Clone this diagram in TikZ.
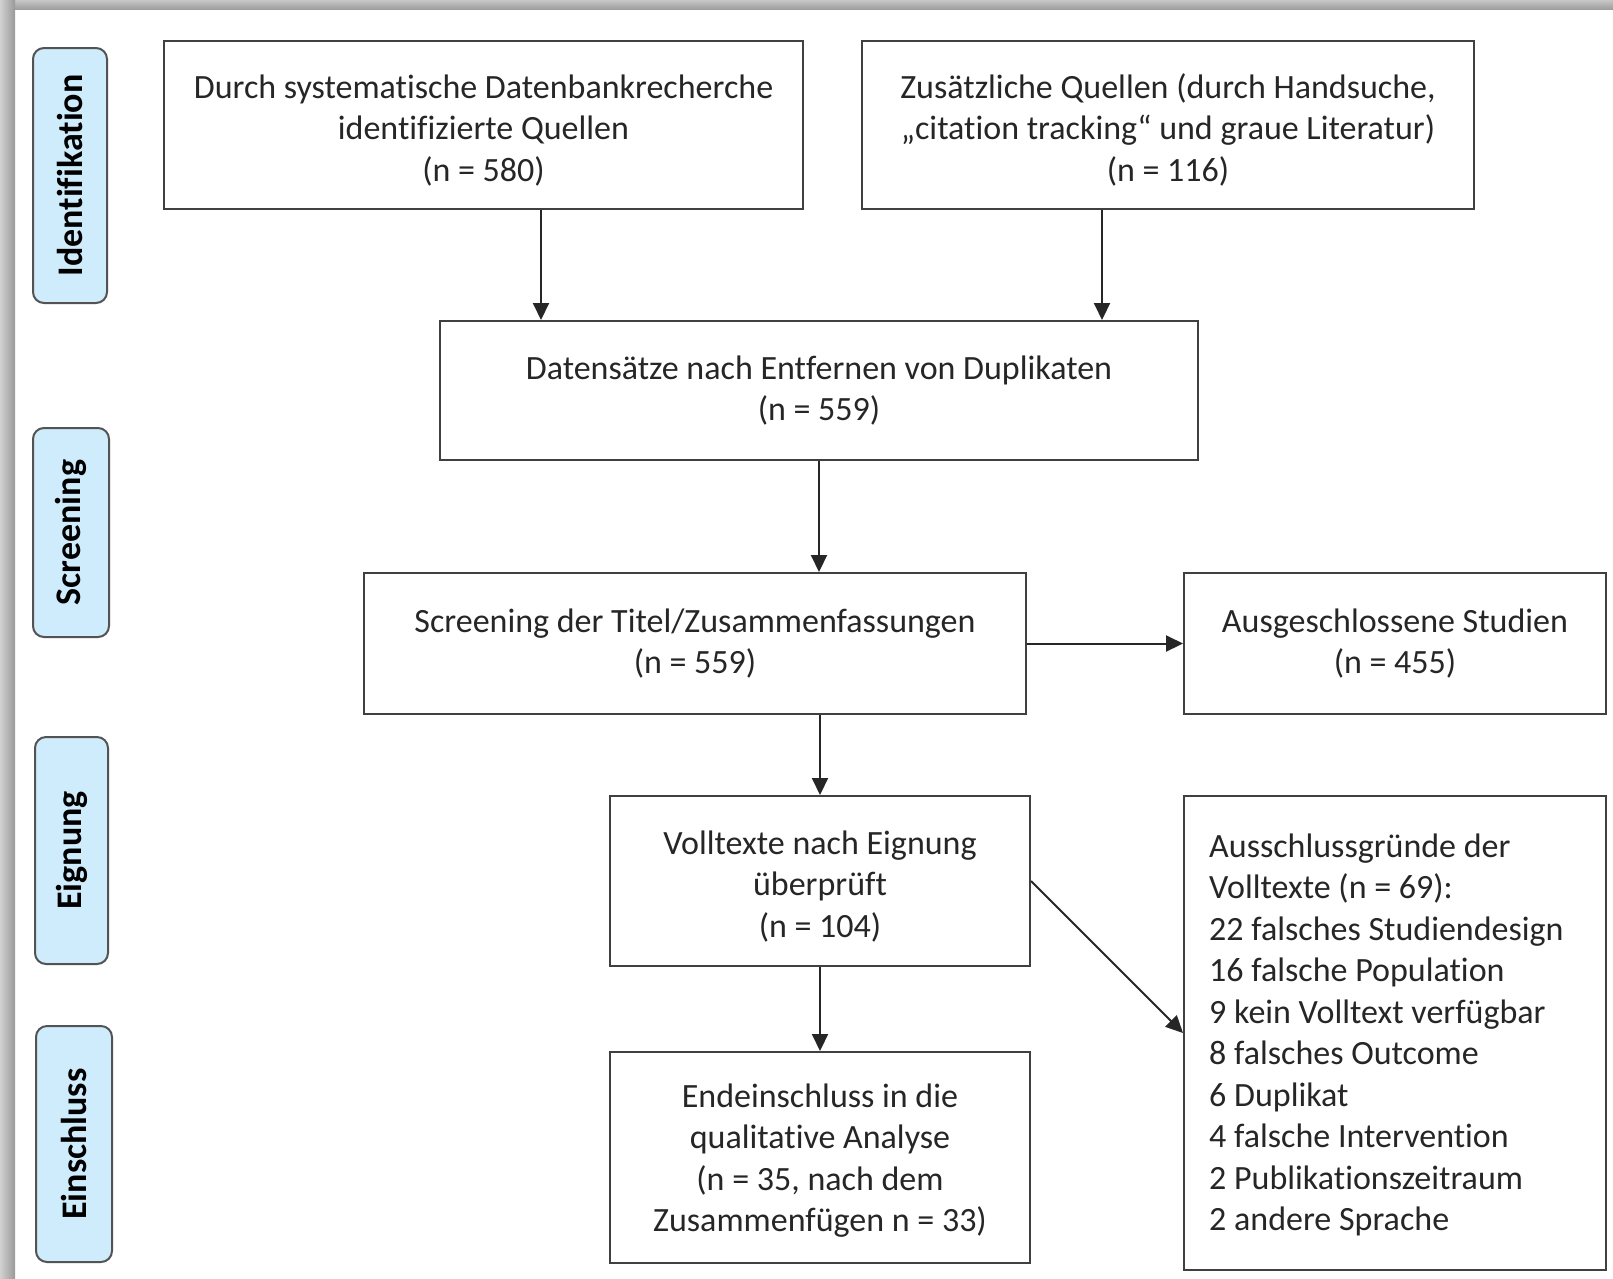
\documentclass[tikz,border=0pt]{standalone}
\usepackage{fontspec}
\setmainfont{Carlito}[Ligatures=NoCommon]
\usetikzlibrary{arrows.meta,shadings}
\definecolor{lblfill}{RGB}{206,236,252}
\definecolor{edge}{RGB}{64,64,64}
\newcommand{\topstrut}[1]{\rule{0pt}{#1}}
\begin{document}
\begin{tikzpicture}[x=1pt,y=1pt,
  box/.style={draw=edge,line width=2pt,inner sep=0pt,align=center,
    font=\fontsize{34}{41.5}\selectfont,text=black!85},
  plain/.style={inner sep=0pt,font=\fontsize{34}{41.5}\selectfont,text=black!85},
  lbl/.style={draw=edge!90,line width=2pt,fill=lblfill,rounded corners=11pt,
    rotate=90,inner sep=0pt,font=\fontsize{36}{40}\selectfont\bfseries},
  arr/.style={draw=black!85,line width=2pt,-{Triangle[length=17pt,width=16pt]}}]
\useasboundingbox (0,0) rectangle (1613,-1278);
\fill[white] (0,0) rectangle (1613,-1278);
% frame shadow
\shade[top color=black!22,bottom color=black!38] (0,0) rectangle (1613,-9);
\shade[left color=black!18,right color=black!40] (0,0) rectangle (15,-1278);
% side labels
\node[lbl,minimum width=255pt,minimum height=74pt] (l1) at (70,-175.5) {Identifikation};
\node[lbl,minimum width=209pt,minimum height=76pt] (l2) at (71,-532.5) {Screening};
\node[lbl,minimum width=227pt,minimum height=73pt] (l3) at (71.5,-850.5) {Eignung};
\node[lbl,minimum width=236pt,minimum height=76pt] (l4) at (74,-1144) {Einschluss};
% boxes
\node[box,minimum width=639pt,minimum height=168pt] (A) at (483.5,-125)
  {\topstrut{34pt}Durch systematische Datenbankrecherche\\identifizierte Quellen\\(n = 580)};
\node[box,minimum width=612pt,minimum height=168pt] (B) at (1168,-125)
  {\topstrut{34pt}Zusätzliche Quellen (durch Handsuche,\\„citation tracking“ und graue Literatur)\\(n = 116)};
\node[box,minimum width=758pt,minimum height=139pt] (C) at (819,-390.5)
  {Datensätze nach Entfernen von Duplikaten\\(n = 559)};
\node[box,minimum width=662pt,minimum height=141pt] (D) at (695,-643.5)
  {Screening der Titel/Zusammenfassungen\\(n = 559)};
\node[box,minimum width=422pt,minimum height=141pt] (E) at (1395,-643.5)
  {Ausgeschlossene Studien\\(n = 455)};
\node[box,minimum width=420pt,minimum height=170pt] (F) at (820,-881)
  {\topstrut{34pt}Volltexte nach Eignung\\überprüft\\(n = 104)};
\node[box,minimum width=422pt,minimum height=474pt] (G) at (1395,-1033) {};
\node[plain,anchor=west,align=left] (Gt) at (1209,-1035)
  {Ausschlussgründe der\\Volltexte (n = 69):\\22 falsches Studiendesign\\16 falsche Population\\9 kein Volltext verfügbar\\8 falsches Outcome\\6 Duplikat\\4 falsche Intervention\\2 Publikationszeitraum\\2 andere Sprache};
\node[box,minimum width=420pt,minimum height=211pt] (H) at (820,-1157.5)
  {\topstrut{30pt}Endeinschluss in die\\qualitative Analyse\\(n = 35, nach dem\\Zusammenfügen n = 33)};
% connectors
\coordinate (xa) at (541,0);
\coordinate (xb) at (1102,0);
\draw[arr] (A.south -| xa) -- (C.north -| xa);
\draw[arr] (B.south -| xb) -- (C.north -| xb);
\draw[arr] (C.south) -- (D.north -| C.south);
\draw[arr] (D.east) -- (E.west);
\draw[arr] (D.south -| F.north) -- (F.north);
\draw[arr] (F.south) -- (H.north);
\draw[arr] (F.east) -- (G.west);
\end{tikzpicture}
\end{document}
